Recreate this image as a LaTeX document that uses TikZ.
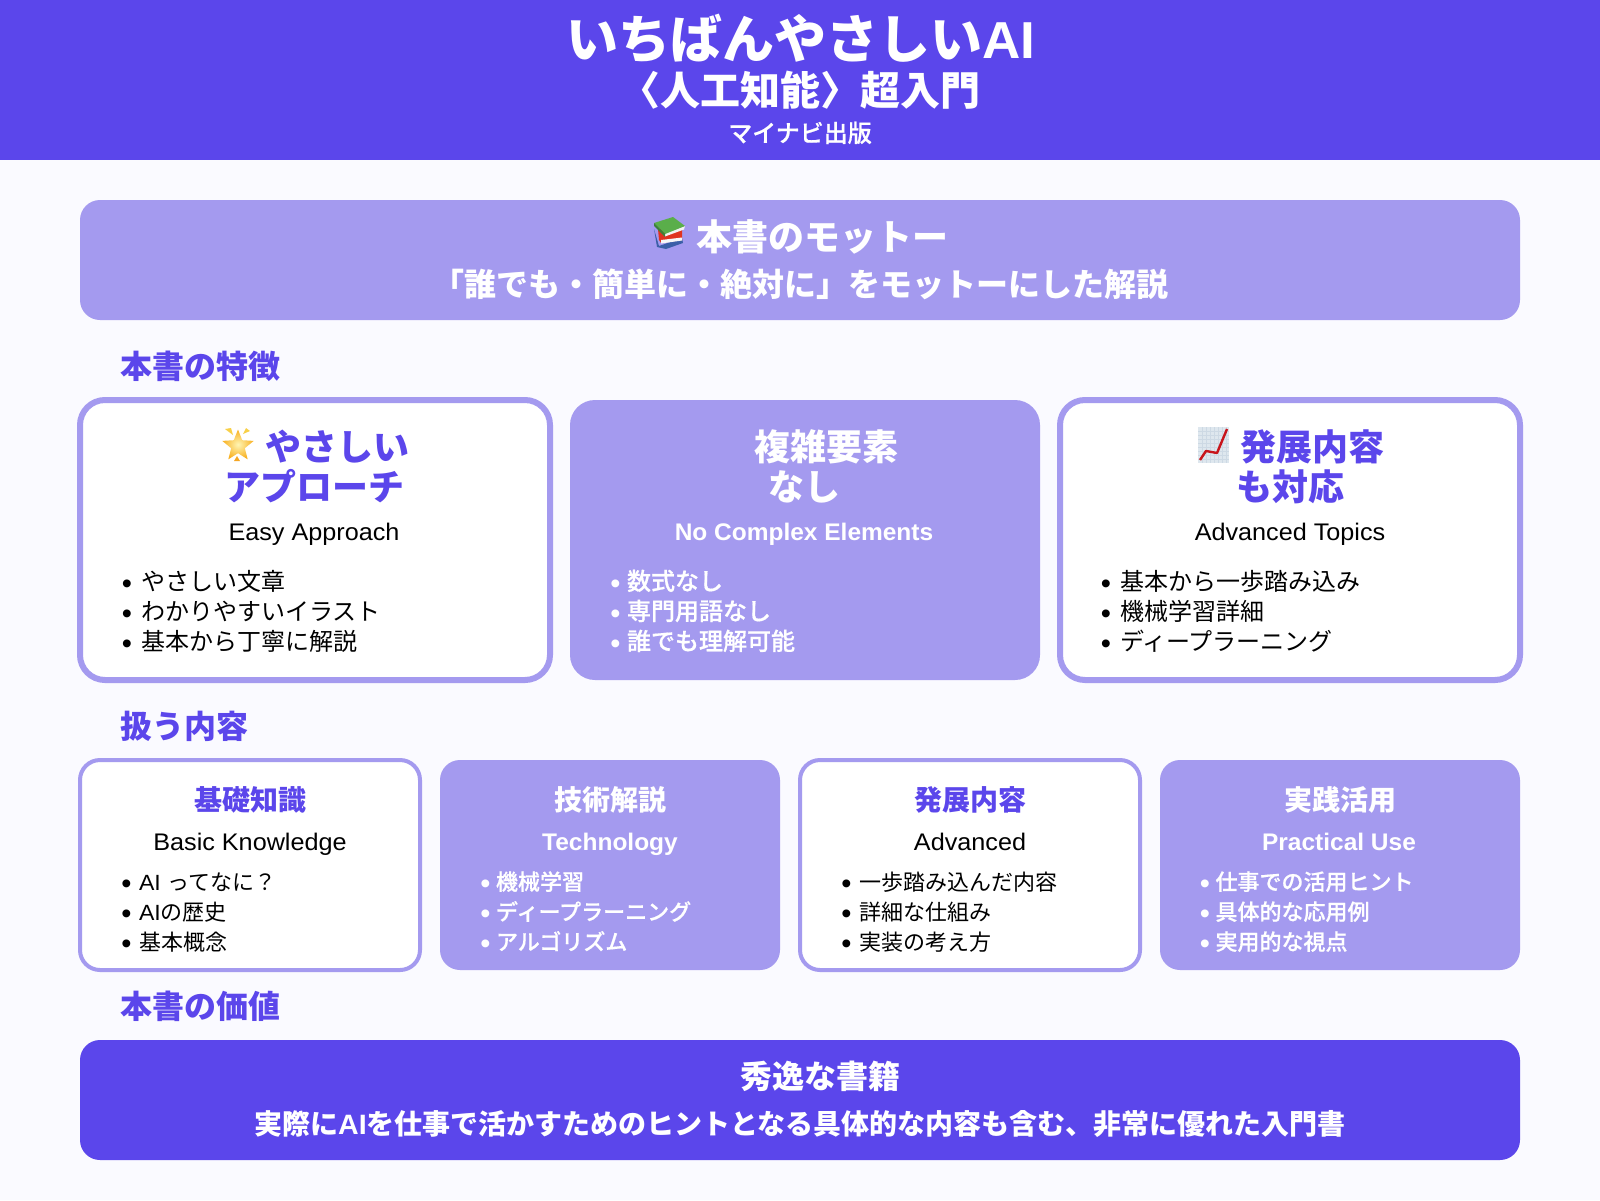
\documentclass[tikz,border=0pt]{standalone}
\usepackage{fontspec}
\usetikzlibrary{shapes.geometric}
\setmainfont{Liberation Sans}
\newfontfamily\cjk{Noto Sans CJK JP}
\newfontfamily\cjkm{Noto Sans CJK JP Medium}[FakeBold=0.6]
\newfontfamily\lat{Liberation Sans}[FakeStretch=1.05,BoldFeatures={FakeStretch=1.02}]
\newfontfamily\blt{Liberation Sans}
\definecolor{deep}{HTML}{5B46EB}
\definecolor{soft}{HTML}{A49AEF}
\definecolor{page}{HTML}{FAFAFF}
\newcommand{\fs}[1]{\fontsize{#1}{#1}\selectfont}
\tikzset{
  x=1pt,y=-1pt,
  txt/.style={inner sep=0pt,outer sep=0pt,anchor=base},
  ltxt/.style={inner sep=0pt,outer sep=0pt,anchor=base west},
  softbox/.style={fill=soft,rounded corners=#1,inner sep=0pt,outer sep=0pt,anchor=north west},
  softbox/.default=20pt,
  rimbox/.style={fill=white,draw=soft,rounded corners=#1,inner sep=0pt,outer sep=0pt,anchor=north west},
  deepbox/.style={fill=deep,rounded corners=20pt,inner sep=0pt,outer sep=0pt,anchor=north west},
}
% name, bullet x, text x, baseline, colour, text
\newcommand{\liw}[6]{%
  \node[txt,text=#5] (#1b) at (#2,#4+3) {\blt\fs{29}•};
  \node[ltxt,text=#5] (#1) at (#3,#4) {#6};}
\newcommand{\cardbox}[6]{\node[#2,minimum width=#5pt,minimum height=#6pt] (#1) at (#3,#4) {};}
\begin{document}
\begin{tikzpicture}
\path[use as bounding box,fill=page] (0,0) rectangle (1600,1200);
\fill[deep] (0,0) rectangle (1600,160);

% header
\node[txt,text=white] (t1) at (801,58) {\fs{52}\bfseries\cjk いちばんやさしい\lat AI};
\node[txt,text=white] (t2) at (800,105) {\fs{40}\bfseries\cjk 〈人工知能〉超入門};
\node[txt,text=white] (t3) at (800,142) {\fs{24}\cjkm マイナビ出版};

% motto
\cardbox{motto}{softbox}{80}{200}{1440}{120}
\node[txt,text=white] (m1) at (822,250) {\fs{36}\bfseries\cjk 本書のモットー};
\node[txt,text=white] (m2) at (800,296) {\fs{32}\bfseries\cjk 「誰でも・簡単に・絶対に」をモットーにした解説};

% section 1
\node[ltxt,text=deep] (s1) at (120,378) {\fs{32}\bfseries\cjk 本書の特徴};
\cardbox{c1}{rimbox=25pt,line width=6pt}{80}{400}{470}{280}
\cardbox{c2}{softbox=25pt}{570}{400}{470}{280}
\cardbox{c3}{rimbox=25pt,line width=6pt}{1060}{400}{460}{280}

\node[txt,text=deep] (c1a) at (337,460) {\fs{36}\bfseries\cjk やさしい};
\node[txt,text=deep] (c1b) at (314,500) {\fs{36}\bfseries\cjk アプローチ};
\node[txt] (c1c) at (314,540) {\fs{24}\lat Easy Approach};
\liw{c1l1}{127}{141}{590}{black}{\fs{24}\cjk やさしい文章}
\liw{c1l2}{127}{141}{620}{black}{\fs{24}\cjk わかりやすいイラスト}
\liw{c1l3}{127}{141}{650}{black}{\fs{24}\cjk 基本から丁寧に解説}

\node[txt,text=white] (c2a) at (826,460) {\fs{36}\bfseries\cjk 複雑要素};
\node[txt,text=white] (c2b) at (804,500) {\fs{36}\bfseries\cjk なし};
\node[txt,text=white] (c2c) at (804,540) {\fs{24}\bfseries\lat No Complex Elements};
\liw{c2l1}{615.5}{627}{590}{white}{\fs{24}\cjkm 数式なし}
\liw{c2l2}{615.5}{627}{620}{white}{\fs{24}\cjkm 専門用語なし}
\liw{c2l3}{615.5}{627}{650}{white}{\fs{24}\cjkm 誰でも理解可能}

\node[txt,text=deep] (c3a) at (1312,460) {\fs{36}\bfseries\cjk 発展内容};
\node[txt,text=deep] (c3b) at (1290,500) {\fs{36}\bfseries\cjk も対応};
\node[txt] (c3c) at (1290,540) {\fs{24}\lat Advanced Topics};
\liw{c3l1}{1106}{1120}{590}{black}{\fs{24}\cjk 基本から一歩踏み込み}
\liw{c3l2}{1106}{1120}{620}{black}{\fs{24}\cjk 機械学習詳細}
\liw{c3l3}{1106}{1120}{650}{black}{\fs{24}\cjk ディープラーニング}

% section 2
\node[ltxt,text=deep] (s2) at (120,738) {\fs{32}\bfseries\cjk 扱う内容};
\cardbox{d1}{rimbox=20pt,line width=4pt}{80}{760}{340}{210}
\cardbox{d2}{softbox=20pt}{440}{760}{340}{210}
\cardbox{d3}{rimbox=20pt,line width=4pt}{800}{760}{340}{210}
\cardbox{d4}{softbox=20pt}{1160}{760}{360}{210}

\node[txt,text=deep] (d1a) at (250,810) {\fs{28}\bfseries\cjk 基礎知識};
\node[txt] (d1c) at (250,850) {\fs{24}\lat Basic Knowledge};
\liw{d1l1}{126.5}{139}{890}{black}{\fs{22}\lat AI \cjk ってなに？}
\liw{d1l2}{126.5}{139}{920}{black}{\fs{22}\lat AI\cjk の歴史}
\liw{d1l3}{126.5}{139}{950}{black}{\fs{22}\cjk 基本概念}

\node[txt,text=white] (d2a) at (610,810) {\fs{28}\bfseries\cjk 技術解説};
\node[txt,text=white] (d2c) at (610,850) {\fs{24}\bfseries\lat Technology};
\liw{d2l1}{485.5}{496}{890}{white}{\fs{22}\cjkm 機械学習}
\liw{d2l2}{485.5}{496}{920}{white}{\fs{22}\cjkm ディープラーニング}
\liw{d2l3}{485.5}{496}{950}{white}{\fs{22}\cjkm アルゴリズム}

\node[txt,text=deep] (d3a) at (970,810) {\fs{28}\bfseries\cjk 発展内容};
\node[txt] (d3c) at (970,850) {\fs{24}\lat Advanced};
\liw{d3l1}{846.5}{859}{890}{black}{\fs{22}\cjk 一歩踏み込んだ内容}
\liw{d3l2}{846.5}{859}{920}{black}{\fs{22}\cjk 詳細な仕組み}
\liw{d3l3}{846.5}{859}{950}{black}{\fs{22}\cjk 実装の考え方}

\node[txt,text=white] (d4a) at (1340,810) {\fs{28}\bfseries\cjk 実践活用};
\node[txt,text=white] (d4c) at (1339,850) {\fs{24}\bfseries\lat Practical Use};
\liw{d4l1}{1205}{1215.5}{890}{white}{\fs{22}\cjkm 仕事での活用ヒント}
\liw{d4l2}{1205}{1215.5}{920}{white}{\fs{22}\cjkm 具体的な応用例}
\liw{d4l3}{1205}{1215.5}{950}{white}{\fs{22}\cjkm 実用的な視点}

% section 3
\node[ltxt,text=deep] (s3) at (120,1018) {\fs{32}\bfseries\cjk 本書の価値};
\cardbox{v}{deepbox}{80}{1040}{1440}{120}
\node[txt,text=white] (v1) at (820,1088) {\fs{32}\bfseries\cjk 秀逸な書籍};
\node[txt,text=white] (v2) at (800,1134) {\fs{28}\bfseries\cjk 実際に\lat AI\cjk を仕事で活かすためのヒントとなる具体的な内容も含む、非常に優れた入門書};

% books emoji
\fill[color={rgb,255:red,59;green,95;blue,168}] (654,229)--(659,246)--(682,238)--(683,243)--(666,249)--(657,247)--cycle;
\fill[color={rgb,255:red,224;green,51;blue,31}] (658,229)--(682,229)--(682,240)--(661,243)--(659,240)--cycle;
\fill[color=white!94!gray] (661,240)--(682,237.5)--(682,240.5)--(661,243.5)--cycle;
\fill[color=white!90!gray] (665,233)--(685,226)--(684,229.5)--(665,236.5)--cycle;
\fill[color={rgb,255:red,90;green,174;blue,74}] (654,223)--(673,217)--(685,226)--(665,234)--cycle;
\fill[color={rgb,255:red,60;green,130;blue,55}] (654,223)--(665,234)--(665,237)--(654,226)--cycle;

% star emoji
\node[star,star points=5,star point ratio=2.3,minimum size=33pt,inner sep=0pt,inner color={rgb,255:red,255;green,245;blue,180},outer color={rgb,255:red,248;green,176;blue,32}] (starico) at (238,446) {};
\fill[color={rgb,255:red,248;green,208;blue,72}] (225,429)--(231,428)--(233,435)--cycle;
\fill[color={rgb,255:red,248;green,208;blue,72}] (243,434)--(246,428)--(250,431)--cycle;
\fill[color={rgb,255:red,245;green,166;blue,35}] (237,456)--(234,461)--(240,461)--cycle;

% chart emoji
\fill[color={rgb,255:red,222;green,231;blue,238}] (1198,427) rectangle (1229,463);
\foreach \gx in {1202,1206,...,1226} \draw[line width=.25pt,color={rgb,255:red,205;green,217;blue,228}] (\gx,427)--(\gx,463);
\foreach \gy in {431,435,...,459} \draw[line width=.25pt,color={rgb,255:red,205;green,217;blue,228}] (1198,\gy)--(1229,\gy);
\draw[line width=2.4pt,color={rgb,255:red,200;green,21;blue,27},line join=round] (1200,460)--(1206,451)--(1217,453)--(1227,429);
\end{tikzpicture}
\end{document}
